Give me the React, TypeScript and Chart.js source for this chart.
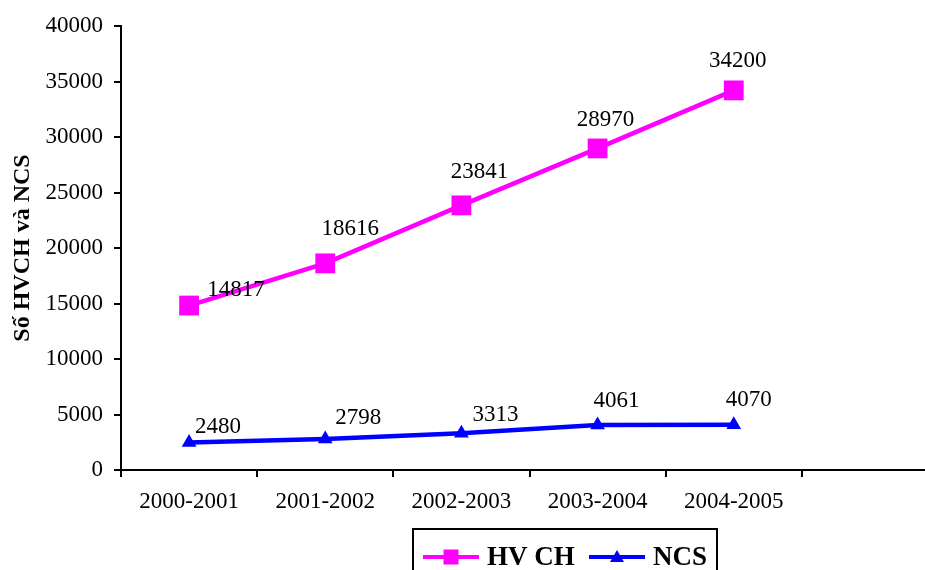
import React, { useEffect, useRef } from "react";
import { Chart, registerables } from "chart.js";

Chart.register(...registerables);

const categories = ["2000-2001", "2001-2002", "2002-2003", "2003-2004", "2004-2005", ""];
const hvchValues = [14817, 18616, 23841, 28970, 34200];
const ncsValues = [2480, 2798, 3313, 4061, 4070];
const seriesNames = ["HV CH", "NCS"];
const yTitle = "Số HVCH và NCS";

const SERIF = "'Liberation Serif', 'Times New Roman', serif";

// label offsets relative to each point (style only)
const labelOffsets = [
  [[47, -16], [25, -34], [18, -33], [8, -28], [4, -29]],
  [[29, -16], [33, -21], [34, -18], [19, -24], [15, -25]],
];

const dataLabelPlugin = {
  id: "dataLabels",
  afterDatasetsDraw(chart: any) {
    const ctx = chart.ctx;
    ctx.save();
    ctx.font = `23px ${SERIF}`;
    ctx.fillStyle = "#000";
    ctx.textAlign = "center";
    ctx.textBaseline = "middle";
    chart.data.datasets.forEach((ds: any, di: number) => {
      const meta = chart.getDatasetMeta(di);
      meta.data.forEach((pt: any, i: number) => {
        const v = ds.data[i];
        if (v == null) return;
        const off = labelOffsets[di][i] || [0, -25];
        ctx.fillText(String(v), pt.x + off[0], pt.y + off[1]);
      });
    });
    ctx.restore();
  },
};

function drawMarker(ctx: any, style: string, x: number, y: number, color: string) {
  ctx.fillStyle = color;
  ctx.beginPath();
  if (style === "rect") {
    ctx.rect(x - 7.5, y - 7.5, 15, 15);
  } else {
    ctx.moveTo(x, y - 7);
    ctx.lineTo(x + 7, y + 5);
    ctx.lineTo(x - 7, y + 5);
    ctx.closePath();
  }
  ctx.fill();
}

const legendPlugin = {
  id: "customLegend",
  afterDraw(chart: any) {
    const ctx = chart.ctx;
    ctx.save();
    const bx = 413, by = 529, bw = 304, bh = 60;
    ctx.strokeStyle = "#000";
    ctx.lineWidth = 2;
    ctx.strokeRect(bx, by, bw, bh);
    const cy = 557;
    const items = [
      { x0: 423, x1: 479, tx: 487 },
      { x0: 589, x1: 645, tx: 653 },
    ];
    chart.data.datasets.forEach((ds: any, i: number) => {
      const it = items[i];
      ctx.strokeStyle = ds.borderColor;
      ctx.lineWidth = 4;
      ctx.beginPath();
      ctx.moveTo(it.x0, cy);
      ctx.lineTo(it.x1, cy);
      ctx.stroke();
      drawMarker(ctx, ds.pointStyle, (it.x0 + it.x1) / 2, cy, ds.borderColor);
      ctx.fillStyle = "#000";
      ctx.font = `bold 27px ${SERIF}`;
      ctx.textAlign = "left";
      ctx.textBaseline = "middle";
      ctx.fillText(ds.label, it.tx, cy + 1);
    });
    ctx.restore();
  },
};

export default function App() {
  const ref = useRef<HTMLCanvasElement | null>(null);
  useEffect(() => {
    if (!ref.current) return;
    const chart = new Chart(ref.current, {
      type: "line",
      data: {
        labels: categories,
        datasets: [
          {
            label: seriesNames[0],
            data: hvchValues,
            borderColor: "#FF00FF",
            backgroundColor: "#FF00FF",
            borderWidth: 4.5,
            pointStyle: "rect",
            pointRadius: 14,
            pointBorderWidth: 0,
            pointBackgroundColor: "#FF00FF",
            tension: 0,
          },
          {
            label: seriesNames[1],
            data: ncsValues,
            borderColor: "#0000FF",
            backgroundColor: "#0000FF",
            borderWidth: 4.5,
            pointStyle: "triangle",
            pointRadius: 8.5,
            pointBorderWidth: 0,
            pointBackgroundColor: "#0000FF",
            tension: 0,
          },
        ],
      },
      options: {
        responsive: false,
        animation: false,
        layout: { padding: { top: 26, left: 0, right: 0, bottom: 0 } },
        plugins: {
          legend: { display: false },
          tooltip: { enabled: false },
        },
        scales: {
          x: {
            type: "category",
            offset: true,
            grid: {
              offset: true,
              drawOnChartArea: false,
              drawTicks: true,
              tickLength: 7,
              color: "#000",
              lineWidth: 2,
            },
            border: { display: true, color: "#000", width: 2 },
            ticks: {
              color: "#000",
              font: { family: SERIF, size: 23 },
              padding: 11,
              maxRotation: 0,
              autoSkip: false,
            },
            afterFit: (scale: any) => {
              scale.height = 100;
            },
          },
          y: {
            min: 0,
            max: 40000,
            grid: {
              drawOnChartArea: false,
              drawTicks: true,
              tickLength: 7,
              color: "#000",
              lineWidth: 2,
            },
            border: { display: true, color: "#000", width: 2 },
            ticks: {
              stepSize: 5000,
              color: "#000",
              font: { family: SERIF, size: 23 },
              padding: 11,
              callback: (v: any) => String(v),
            },
            title: {
              display: true,
              text: yTitle,
              color: "#000",
              font: { family: SERIF, size: 24, weight: "bold" },
              padding: { top: 8, bottom: 0 },
            },
            afterFit: (scale: any) => {
              scale.width = 121;
            },
          },
        },
      },
      plugins: [dataLabelPlugin, legendPlugin],
    });
    return () => chart.destroy();
  }, []);
  return (
    <div
      style={{
        position: "absolute",
        left: 0,
        top: 0,
        width: 925,
        height: 570,
        overflow: "hidden",
        background: "#fff",
      }}
    >
      <canvas ref={ref} width={952} height={570} style={{ display: "block" }} />
    </div>
  );
}
